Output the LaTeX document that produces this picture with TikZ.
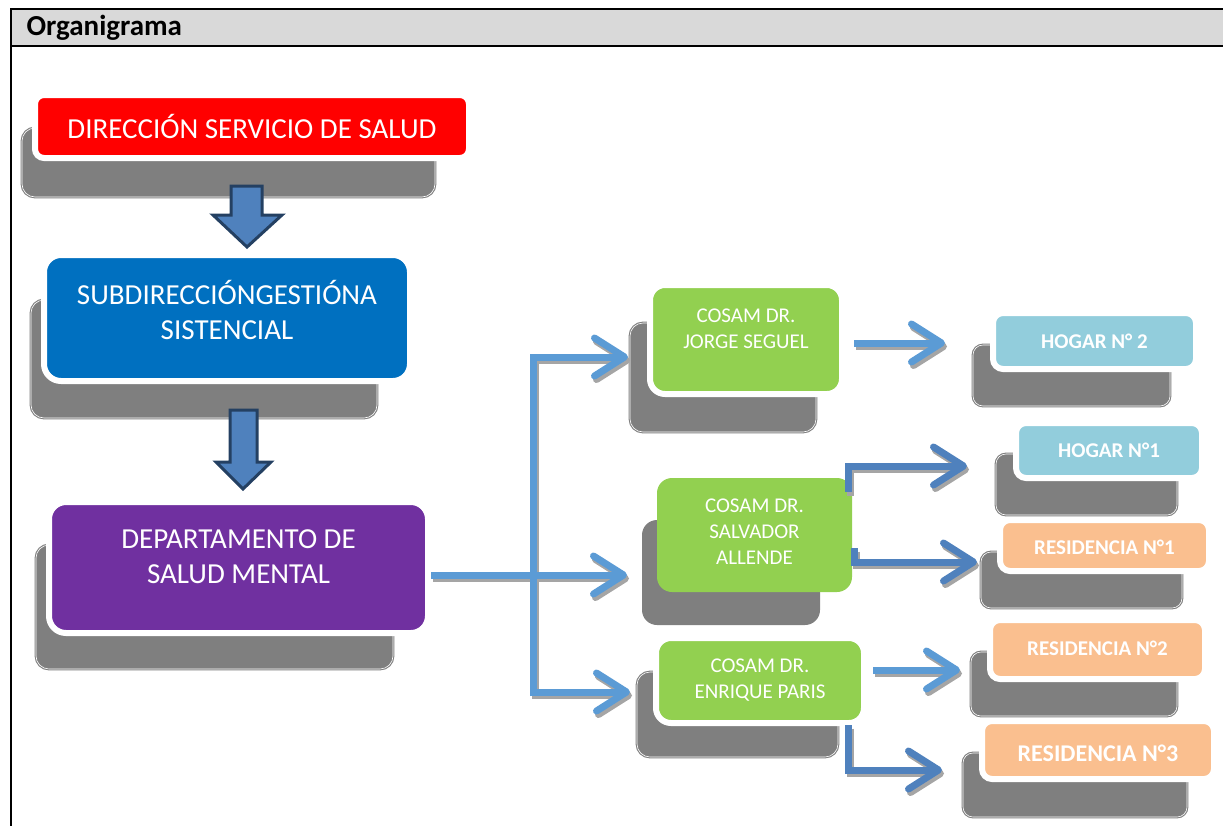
\documentclass[tikz,border=0pt]{standalone}
\usepackage{fontspec}
\setmainfont{Carlito}
\usetikzlibrary{arrows.meta,calc}
\definecolor{cred}{RGB}{255,0,0}
\definecolor{cblue}{RGB}{0,112,192}
\definecolor{cpurple}{RGB}{112,48,160}
\definecolor{cgreen}{RGB}{146,208,80}
\definecolor{ccyan}{RGB}{146,205,220}
\definecolor{corange}{RGB}{250,191,143}
\definecolor{shgray}{RGB}{127,127,127}
\definecolor{titlegray}{RGB}{217,217,217}
\definecolor{linkblue}{RGB}{91,155,213}
\definecolor{linkdark}{RGB}{79,129,189}
\definecolor{linkshade}{RGB}{165,165,165}
\definecolor{arrowfill}{RGB}{79,129,189}
\definecolor{arrowedge}{RGB}{36,64,98}
\tikzstyle{orgbox}=[rectangle, rounded corners=15pt, draw=white, line width=6pt, inner sep=0pt]
\tikzstyle{smallbox}=[orgbox, rounded corners=10pt]
\tikzstyle{shadowbox}=[rectangle, rounded corners=13pt, fill=shgray, draw=shgray, double=white, double distance=0.6pt, line width=1.1pt, inner sep=0pt]
\tikzstyle{plainshadow}=[rectangle, rounded corners=15pt, fill=shgray, inner sep=0pt]
\tikzstyle{bigtext}=[text=white, align=center, font=\fontsize{29}{35}\selectfont]
\tikzstyle{midtext}=[text=white, align=center, font=\fontsize{21}{26}\selectfont]
\tikzstyle{smalltext}=[text=white, font=\bfseries\fontsize{21}{25}\selectfont]
\tikzstyle{link}=[line width=7pt, linkblue, -{Straight Barb[length=30pt,width=38pt,round]}]
\tikzstyle{linkd}=[link, linkdark]
\tikzstyle{lshade}=[link, linkshade, transform canvas={xshift=2pt,yshift=-3.5pt}]
\tikzstyle{downarrow}=[fill=arrowfill, draw=arrowedge, line width=3pt]

\begin{document}
\begin{tikzpicture}[x=1pt,y=-1pt]
\useasboundingbox (0,0) rectangle (1223,825);
% frame and title
\fill[titlegray] (11,9) rectangle (1223,46);
\draw[line width=2pt] (1223,9) -- (11,9) -- (11,840);
\draw[line width=2pt] (11,46) -- (1223,46);
\node[anchor=west, font=\bfseries\fontsize{29}{34}\selectfont] (title) at (23,28) {Organigrama};

% shadows
\node[shadowbox, minimum width=413pt, minimum height=69pt] (dss-sh) at (228.5,162.5) {};
\node[shadowbox, minimum width=346pt, minimum height=118pt] (sga-sh) at (204,359) {};
\node[shadowbox, minimum width=357pt, minimum height=124pt] (dsm-sh) at (214.5,607) {};
\node[shadowbox, minimum width=186pt, minimum height=109pt] (cjs-sh) at (723,377.5) {};
\node[plainshadow, minimum width=178pt, minimum height=105pt] (csa-sh) at (731,572.5) {};
\node[shadowbox, minimum width=201pt, minimum height=85pt] (cep-sh) at (737.5,714.5) {};
\node[shadowbox, rounded corners=10pt, minimum width=197pt, minimum height=61pt] (h2-sh) at (1071.5,375.5) {};
\node[shadowbox, rounded corners=10pt, minimum width=181pt, minimum height=61pt] (h1-sh) at (1086.5,484.5) {};
\node[shadowbox, rounded corners=10pt, minimum width=201pt, minimum height=56pt] (r1-sh) at (1081.5,580) {};
\node[shadowbox, rounded corners=10pt, minimum width=206pt, minimum height=64pt] (r2-sh) at (1074,684) {};
\node[shadowbox, rounded corners=10pt, minimum width=224pt, minimum height=64pt] (r3-sh) at (1075,785) {};

% boxes
\node[orgbox, rounded corners=9pt, fill=cred, minimum width=434pt, minimum height=63pt,
  label={[bigtext]center:DIRECCIÓN SERVICIO DE SALUD}] (dss) at (252,126.5) {};
\node[orgbox, rounded corners=17pt, fill=cblue, minimum width=366pt, minimum height=126pt,
  label={[bigtext, yshift=8pt]center:SUBDIRECCIÓNGESTIÓNA\\SISTENCIAL}] (sga) at (227,318) {};
\node[orgbox, rounded corners=17pt, fill=cpurple, minimum width=379pt, minimum height=131pt,
  label={[bigtext, yshift=11pt]center:DEPARTAMENTO DE\\SALUD MENTAL}] (dsm) at (238.5,567.5) {};
\node[orgbox, fill=cgreen, minimum width=192pt, minimum height=109pt,
  label={[midtext, yshift=11pt]center:COSAM DR.\\JORGE SEGUEL}] (cjs) at (746,339.5) {};
\node[rectangle, rounded corners=15pt, inner sep=0pt, fill=cgreen, minimum width=195pt, minimum height=114pt,
  label={[midtext, yshift=3pt]center:COSAM DR.\\SALVADOR\\ALLENDE}] (csa) at (754.5,535) {};
\node[orgbox, fill=cgreen, minimum width=208pt, minimum height=85pt,
  label={[midtext]center:COSAM DR.\\ENRIQUE PARIS}] (cep) at (760,680.5) {};
\node[smallbox, fill=ccyan, minimum width=203pt, minimum height=56pt,
  label={[smalltext]center:HOGAR N° 2}] (h2) at (1094.5,341) {};
\node[smallbox, fill=ccyan, minimum width=186pt, minimum height=55pt,
  label={[smalltext]center:HOGAR N°1}] (h1) at (1109,450.5) {};
\node[smallbox, fill=corange, minimum width=209pt, minimum height=51pt,
  label={[smalltext, yshift=-2pt]center:RESIDENCIA N°1}] (r1) at (1104.5,545.5) {};
\node[smallbox, fill=corange, minimum width=215pt, minimum height=59pt,
  label={[smalltext, yshift=1pt]center:RESIDENCIA N°2}] (r2) at (1097.5,649.5) {};
\node[smallbox, fill=corange, minimum width=232pt, minimum height=58pt,
  label={[smalltext, font=\bfseries\fontsize{24}{28}\selectfont, yshift=-3pt]center:RESIDENCIA N°3}] (r3) at (1098,750) {};

% block arrows down
\draw[downarrow, shift={(247,186)}] (-16,0) -- (15,0) -- (15,29) -- (35,29) -- (0,61) -- (-34,29) -- (-16,29) -- cycle;
\draw[downarrow, shift={(243,410)}] (-13,0) -- (14,0) -- (14,52) -- (28,52) -- (0,79) -- (-27,52) -- (-13,52) -- cycle;

% connectors
\coordinate (jn) at (533,575);
\coordinate (t1) at (628,357);
\coordinate (t2) at (627,575);
\coordinate (t3) at (630,692);
\coordinate (h2t) at (945,343);
\coordinate (h1s) at (848,492);
\coordinate (h1t) at (967,466);
\coordinate (r1s) at (854,548);
\coordinate (r1t) at (977,562);
\coordinate (r2t) at (960,670);
\coordinate (r3s) at (848,725);
\coordinate (r3t) at (942,770);

\foreach \s in {lshade,link} {
  \draw[\s] (dsm.east |- jn) -- (t2);
  \draw[\s] (jn) |- (t1);
  \draw[\s] (jn) |- (t3);
  \draw[\s] ([xshift=9pt]cjs.east |- h2t) -- (h2t);
  \draw[\s] ([xshift=6pt]cep.east |- r2t) -- (r2t);
}
\foreach \s in {lshade,linkd} {
  \draw[\s] (h1s) |- (h1t);
  \draw[\s] (r1s) |- (r1t);
  \draw[\s] (r3s) |- (r3t);
}
\end{tikzpicture}
\end{document}
